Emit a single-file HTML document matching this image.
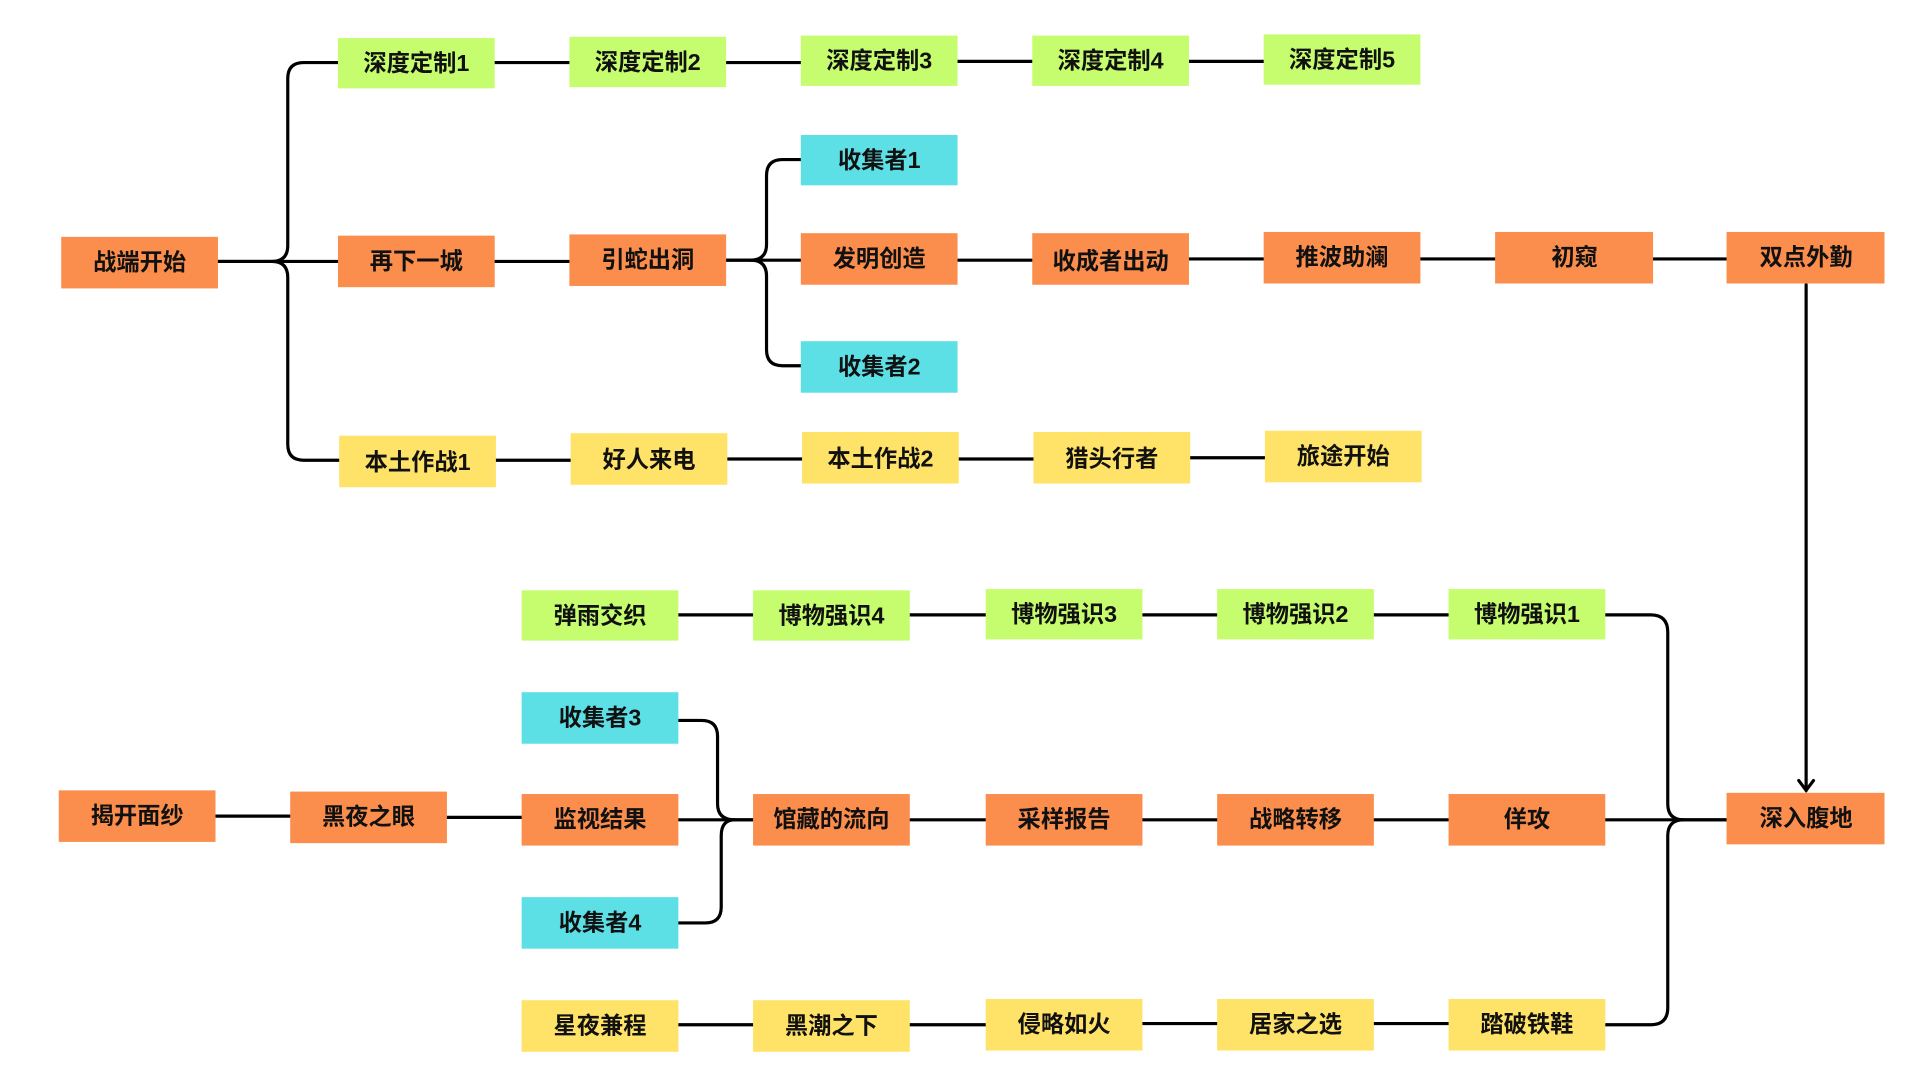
<!DOCTYPE html>
<html><head><meta charset="utf-8"><style>
html,body{margin:0;padding:0;background:#fff;width:1920px;height:1080px;overflow:hidden}
text{font-family:"Liberation Sans","Noto Sans CJK SC",sans-serif;font-weight:bold;font-size:19px;fill:#111}
</style></head><body>
<svg width="1920" height="1080" viewBox="0 0 1568 880" preserveAspectRatio="none" xmlns="http://www.w3.org/2000/svg">
<g fill="none" stroke="#000" stroke-width="2.6" stroke-linecap="round">
<!-- top left branch -->
<path d="M178 213 H222 Q235 213 235 200 V64 Q235 51 248 51 H276"/>
<path d="M222 213 Q235 213 235 226 V362 Q235 375 248 375 H277"/>
<path d="M178 213 H276"/>
<path d="M404 51 H465 M593 51 H654 M782 50 H843 M971 50 H1032"/>
<path d="M404 213 H465"/>
<path d="M593 212 H613 Q626 212 626 199 V143 Q626 130 639 130 H654"/>
<path d="M613 212 Q626 212 626 225 V285 Q626 298 639 298 H654"/>
<path d="M593 212 H654 M782 212 H843 M971 211 H1032 M1160 211 H1221 M1350 211 H1410"/>
<path d="M405 375 H466 M594 374 H655 M783 374 H844 M972 373 H1033"/>
<!-- arrow -->
<path d="M1475 232 V644"/>
<path d="M1469 636 L1475 644 L1481 636"/>
<!-- bottom -->
<path d="M554 501 H615 M743 501 H805 M933 501 H994 M1122 501 H1183"/>
<path d="M1311 501 H1348 Q1362 501 1362 515 V655 Q1362 668 1375 668 H1410"/>
<path d="M1375 668 Q1362 668 1362 681 V821 Q1362 835 1348 835 H1311"/>
<path d="M1311 668 H1410"/>
<path d="M176 665 H237 M365 666 H426 M743 668 H805 M933 668 H994 M1122 668 H1183"/>
<path d="M554 587 H573 Q586 587 586 600 V655 Q586 668 600 668 H615"/>
<path d="M600 668 Q589 668 589 681 V739 Q589 752 576 752 H554"/>
<path d="M554 668 H615"/>
<path d="M554 835 H615 M743 835 H805 M933 834 H994 M1122 834 H1183"/>
</g>
<g>
<!-- green -->
<g fill="#c6fd6e">
<rect x="276" y="31" width="128" height="41"/><rect x="465" y="30" width="128" height="41"/><rect x="654" y="29" width="128" height="41"/><rect x="843" y="29" width="128" height="41"/><rect x="1032" y="28" width="128" height="41"/>
<rect x="426" y="481" width="128" height="41"/><rect x="615" y="481" width="128" height="41"/><rect x="805" y="480" width="128" height="41"/><rect x="994" y="480" width="128" height="41"/><rect x="1183" y="480" width="128" height="41"/>
</g>
<g fill="#fb8e4c">
<rect x="50" y="193" width="128" height="42"/><rect x="276" y="192" width="128" height="42"/><rect x="465" y="191" width="128" height="42"/><rect x="654" y="190" width="128" height="42"/><rect x="843" y="190" width="128" height="42"/><rect x="1032" y="189" width="128" height="42"/><rect x="1221" y="189" width="129" height="42"/><rect x="1410" y="189" width="129" height="42"/>
<rect x="48" y="644" width="128" height="42"/><rect x="237" y="645" width="128" height="42"/><rect x="426" y="647" width="128" height="42"/><rect x="615" y="647" width="128" height="42"/><rect x="805" y="647" width="128" height="42"/><rect x="994" y="647" width="128" height="42"/><rect x="1183" y="647" width="128" height="42"/><rect x="1410" y="646" width="129" height="42"/>
</g>
<g fill="#5ce0e6">
<rect x="654" y="110" width="128" height="41"/><rect x="654" y="278" width="128" height="42"/><rect x="426" y="564" width="128" height="42"/><rect x="426" y="731" width="128" height="42"/>
</g>
<g fill="#ffe268">
<rect x="277" y="355" width="128" height="42"/><rect x="466" y="353" width="128" height="42"/><rect x="655" y="352" width="128" height="42"/><rect x="844" y="352" width="128" height="42"/><rect x="1033" y="351" width="128" height="42"/>
<rect x="426" y="815" width="128" height="42"/><rect x="615" y="815" width="128" height="42"/><rect x="805" y="814" width="128" height="42"/><rect x="994" y="814" width="128" height="42"/><rect x="1183" y="814" width="128" height="42"/>
</g>
</g>
<g text-anchor="middle">
<text x="340" y="58">深度定制1</text><text x="529" y="57">深度定制2</text><text x="718" y="56">深度定制3</text><text x="907" y="56">深度定制4</text><text x="1096" y="55">深度定制5</text>
<text x="114" y="220">战端开始</text><text x="340" y="219">再下一城</text><text x="529" y="218">引蛇出洞</text><text x="718" y="217">发明创造</text><text x="907" y="219">收成者出动</text><text x="1096" y="216">推波助澜</text><text x="1286" y="216">初窥</text><text x="1475" y="216">双点外勤</text>
<text x="718" y="137">收集者1</text><text x="718" y="305">收集者2</text>
<text x="341" y="383">本土作战1</text><text x="530" y="381">好人来电</text><text x="719" y="380">本土作战2</text><text x="908" y="380">猎头行者</text><text x="1097" y="378">旅途开始</text>
<text x="490" y="508">弹雨交织</text><text x="679" y="508">博物强识4</text><text x="869" y="507">博物强识3</text><text x="1058" y="507">博物强识2</text><text x="1247" y="507">博物强识1</text>
<text x="490" y="591">收集者3</text><text x="490" y="758">收集者4</text>
<text x="112" y="671">揭开面纱</text><text x="301" y="672">黑夜之眼</text><text x="490" y="674">监视结果</text><text x="679" y="674">馆藏的流向</text><text x="869" y="674">采样报告</text><text x="1058" y="674">战略转移</text><text x="1247" y="674">佯攻</text><text x="1475" y="673">深入腹地</text>
<text x="490" y="842">星夜兼程</text><text x="679" y="842">黑潮之下</text><text x="869" y="841">侵略如火</text><text x="1058" y="841">居家之选</text><text x="1247" y="841">踏破铁鞋</text>
</g>
</svg>
</body></html>
